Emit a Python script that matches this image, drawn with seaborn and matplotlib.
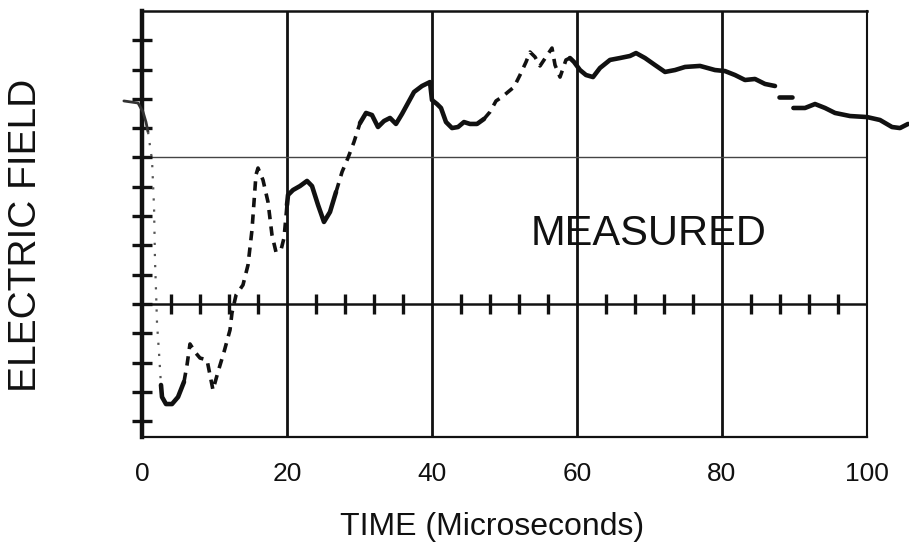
import numpy as np
import pandas as pd
import matplotlib
matplotlib.use("Agg")
import matplotlib.pyplot as plt
import seaborn as sns

# trace: time in microseconds, field in major divisions
time_us = [-2.5, -0.55, 0.14, 0.55, 0.83, 1.38, 1.66, 1.79, 1.93, 2.07, 2.34, 2.62,
           2.76, 3.31, 4.14, 4.97, 5.79,
           6.21, 6.62, 7.31, 8.0, 8.97, 9.38, 9.79, 10.48, 11.31, 12.14, 12.41, 12.97,
           13.93, 14.62, 15.17, 15.72, 16.0, 16.69, 17.38, 17.93, 18.48, 19.17, 19.59, 20.0,
           20.14, 20.83, 21.79, 22.76, 23.45, 24.28, 25.1, 25.93, 26.76,
           27.59, 28.41, 29.24, 30.07,
           30.9, 31.72, 32.55, 33.38, 34.21, 35.03, 35.86, 36.69, 37.52, 38.62, 39.72,
           40.0, 40.69, 41.24, 41.93, 42.76, 43.59, 44.41, 45.24, 46.21, 47.17,
           48.0, 48.83, 49.66, 50.48, 51.31, 52.14, 52.97, 53.52, 54.21, 54.9, 55.72,
           56.55, 56.97, 57.66, 58.48, 59.03,
           59.59, 60.41, 61.24, 62.21, 63.17, 64.55, 65.93, 67.31, 68.14, 69.38, 70.76,
           72.14, 73.52, 74.9, 76.97, 79.03, 80.41, 81.79, 83.17, 84.55, 85.93, 87.31,
           87.8, 89.6,
           89.85, 91.45, 92.83, 94.21, 95.59, 97.66, 100.0, 101.79, 103.45, 104.55, 105.66]
field_div = [1.386, 1.372, 1.311, 1.242, 1.174, 0.983, 0.662, 0.300, 0.096, -0.130, -0.328, -0.553,
             -0.635, -0.683, -0.683, -0.635, -0.532,
             -0.416, -0.273, -0.328, -0.369, -0.382, -0.485, -0.587, -0.464, -0.328, -0.177, -0.061, 0.061,
             0.130, 0.266, 0.505, 0.881, 0.928, 0.846, 0.696, 0.471, 0.355, 0.369, 0.451, 0.676,
             0.744, 0.778, 0.805, 0.840, 0.805, 0.676, 0.560, 0.628, 0.764,
             0.901, 0.997, 1.106, 1.235,
             1.304, 1.290, 1.208, 1.249, 1.270, 1.229, 1.297, 1.372, 1.447, 1.488, 1.515,
             1.392, 1.365, 1.338, 1.242, 1.201, 1.208, 1.242, 1.229, 1.229, 1.263,
             1.311, 1.386, 1.413, 1.447, 1.481, 1.563, 1.652, 1.720, 1.686, 1.625, 1.686,
             1.747, 1.631, 1.549, 1.666, 1.679,
             1.652, 1.597, 1.563, 1.549, 1.611, 1.666, 1.679, 1.693, 1.713, 1.679, 1.631,
             1.584, 1.597, 1.618, 1.625, 1.597, 1.590, 1.563, 1.529, 1.536, 1.502, 1.488,
             1.413, 1.413,
             1.338, 1.338, 1.365, 1.338, 1.304, 1.283, 1.276, 1.256, 1.208, 1.201, 1.229]

# (trace style, first time, last time)
trace_parts = [("thin", -3.0, 0.9), ("dotted", 0.83, 2.7), ("solid", 2.62, 5.8),
               ("dashed", 5.79, 20.0), ("solid", 20.0, 26.8), ("dashed", 26.76, 30.1),
               ("solid", 30.07, 47.2), ("dashed", 47.17, 59.1), ("solid", 59.03, 87.4),
               ("solid", 87.7, 89.7), ("solid", 89.8, 106.0)]

x_ticks = [0, 20, 40, 60, 80, 100]
x_tick_labels = ["0", "20", "40", "60", "80", "100"]

df = pd.DataFrame({"time": time_us, "field": field_div})

sns.set_style("white")
plt.rcParams["font.family"] = ["Liberation Sans", "DejaVu Sans"]

fig = plt.figure(figsize=(9.09, 5.45), dpi=100)
ax = fig.add_axes([142 / 909, 1 - 437 / 545, 725 / 909, 426 / 545])
ax.set_xlim(0, 100)
ax.set_ylim(-0.908, 2.0)

ink = "#111111"
styles = {"solid": dict(lw=3.3, ls="-", color=ink, solid_capstyle="round"),
          "dashed": dict(lw=2.6, ls=(0, (2.6, 2.0)), color=ink),
          "thin": dict(lw=2.0, ls="-", color="#333333"),
          "dotted": dict(lw=1.6, ls=(0, (1, 4)), color="#555555")}

# grid of the scope face
for t in [20, 40, 60, 80]:
    ax.axvline(t, color=ink, lw=2.0, zorder=1)
ax.axhline(0, color=ink, lw=1.8, zorder=1)
ax.axhline(1, color="#444444", lw=1.0, zorder=1)

# small crosses along the centre line and the left edge
minor_t = [t for t in np.arange(4, 100, 4) if t % 20 != 0]
ax.plot(minor_t, np.zeros(len(minor_t)), ls="none", marker="|", markersize=14,
        mew=2.4, color=ink, zorder=2)
minor_e = np.round(np.arange(-0.8, 1.81, 0.2), 2)
ax.plot(np.zeros(len(minor_e)), minor_e, ls="none", marker="_", markersize=14,
        mew=2.4, color=ink, zorder=2, clip_on=False)

for style, t0, t1 in trace_parts:
    part = df[(df["time"] >= t0) & (df["time"] <= t1)]
    sns.lineplot(data=part, x="time", y="field", ax=ax, estimator=None,
                 clip_on=False, zorder=3, **styles[style])

for side, lw in [("left", 3.2), ("top", 1.8), ("right", 1.5), ("bottom", 1.6)]:
    ax.spines[side].set_visible(True)
    ax.spines[side].set_linewidth(lw)
    ax.spines[side].set_color(ink)

ax.set_xticks(x_ticks)
ax.set_xticklabels(x_tick_labels)
ax.set_yticks([])
ax.tick_params(axis="x", length=0, pad=18, labelsize=19, labelcolor=ink)
ax.set_xlabel("")
ax.set_ylabel("")

fig.text(492 / 909, 1 - 535 / 545, "TIME (Microseconds)", ha="center", va="baseline",
         fontsize=23, color=ink)
fig.text(26 / 909, 1 - 235 / 545, "ELECTRIC FIELD", ha="center", va="center",
         rotation=90, fontsize=28, color=ink)
ax.text(649 / 909, 1 - 245 / 545, "MEASURED", transform=fig.transFigure,
        ha="center", va="baseline", fontsize=30, color=ink, zorder=4)

fig.savefig("out.png", dpi=100, facecolor="white")
